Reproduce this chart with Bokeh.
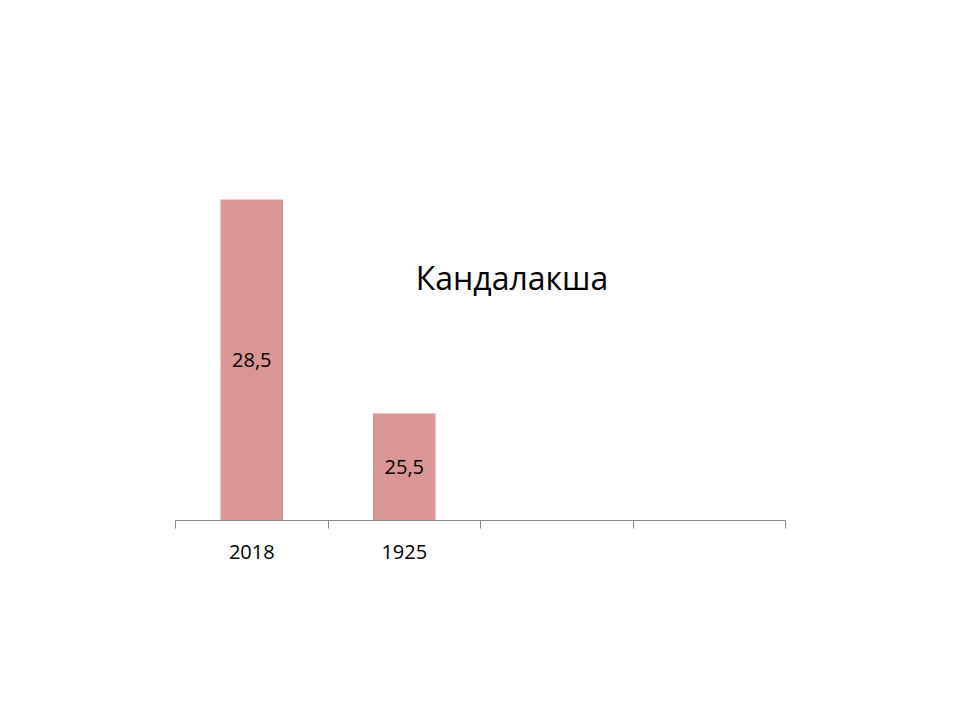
from bokeh.plotting import figure
from bokeh.models import Range1d, FixedTicker, ColumnDataSource, Label
from bokeh.core.properties import value
from bokeh.embed import file_html
from bokeh.resources import INLINE

# data
categories = ["2018", "1925", "", ""]
values = [28.5, 25.5]
y_base = 24
y_top = 30
title_text = "Кандалакша"

FONT = "Open Sans"
n = len(categories)
centers = [i + 0.5 for i in range(n)]

p = figure(width=944, height=704, output_backend="svg", toolbar_location=None,
           x_range=Range1d(0, n), y_range=Range1d(y_base, y_top),
           min_border_left=175, min_border_right=159,
           min_border_top=92, min_border_bottom=184)
p.outline_line_color = None
p.xgrid.visible = False
p.ygrid.visible = False
p.yaxis.visible = False

src = ColumnDataSource(dict(
    x=centers[:len(values)],
    top=values,
    mid=[(y_base + v) / 2 for v in values],
    lab=[f"{v}".replace(".", ",") for v in values],
))
p.vbar(x="x", top="top", bottom=y_base, width=0.41, source=src,
       fill_color="#D99694", line_color=None)
p.text(x="x", y="mid", text="lab", source=src, text_align="center",
       text_baseline="middle", text_font=value(FONT), text_font_size="20px",
       text_color="#000000")

ax = p.xaxis[0]
ax.ticker = FixedTicker(ticks=centers, minor_ticks=list(range(n + 1)))
ax.major_label_overrides = {c: lab for c, lab in zip(centers, categories)}
ax.major_tick_out = 0
ax.major_tick_in = 0
ax.minor_tick_out = 8
ax.minor_tick_in = 0
ax.minor_tick_line_color = "#868686"
ax.axis_line_color = "#868686"
ax.major_label_standoff = 16
ax.major_label_text_font = FONT
ax.major_label_text_font_size = "20px"
ax.major_label_text_color = "#000000"

p.add_layout(Label(x=2.207, y=27.41, text=title_text, text_align="center",
                   text_baseline="alphabetic", text_font=FONT,
                   text_font_size="32px", text_color="#000000"))

open("out.html", "w").write(file_html(p, INLINE))
